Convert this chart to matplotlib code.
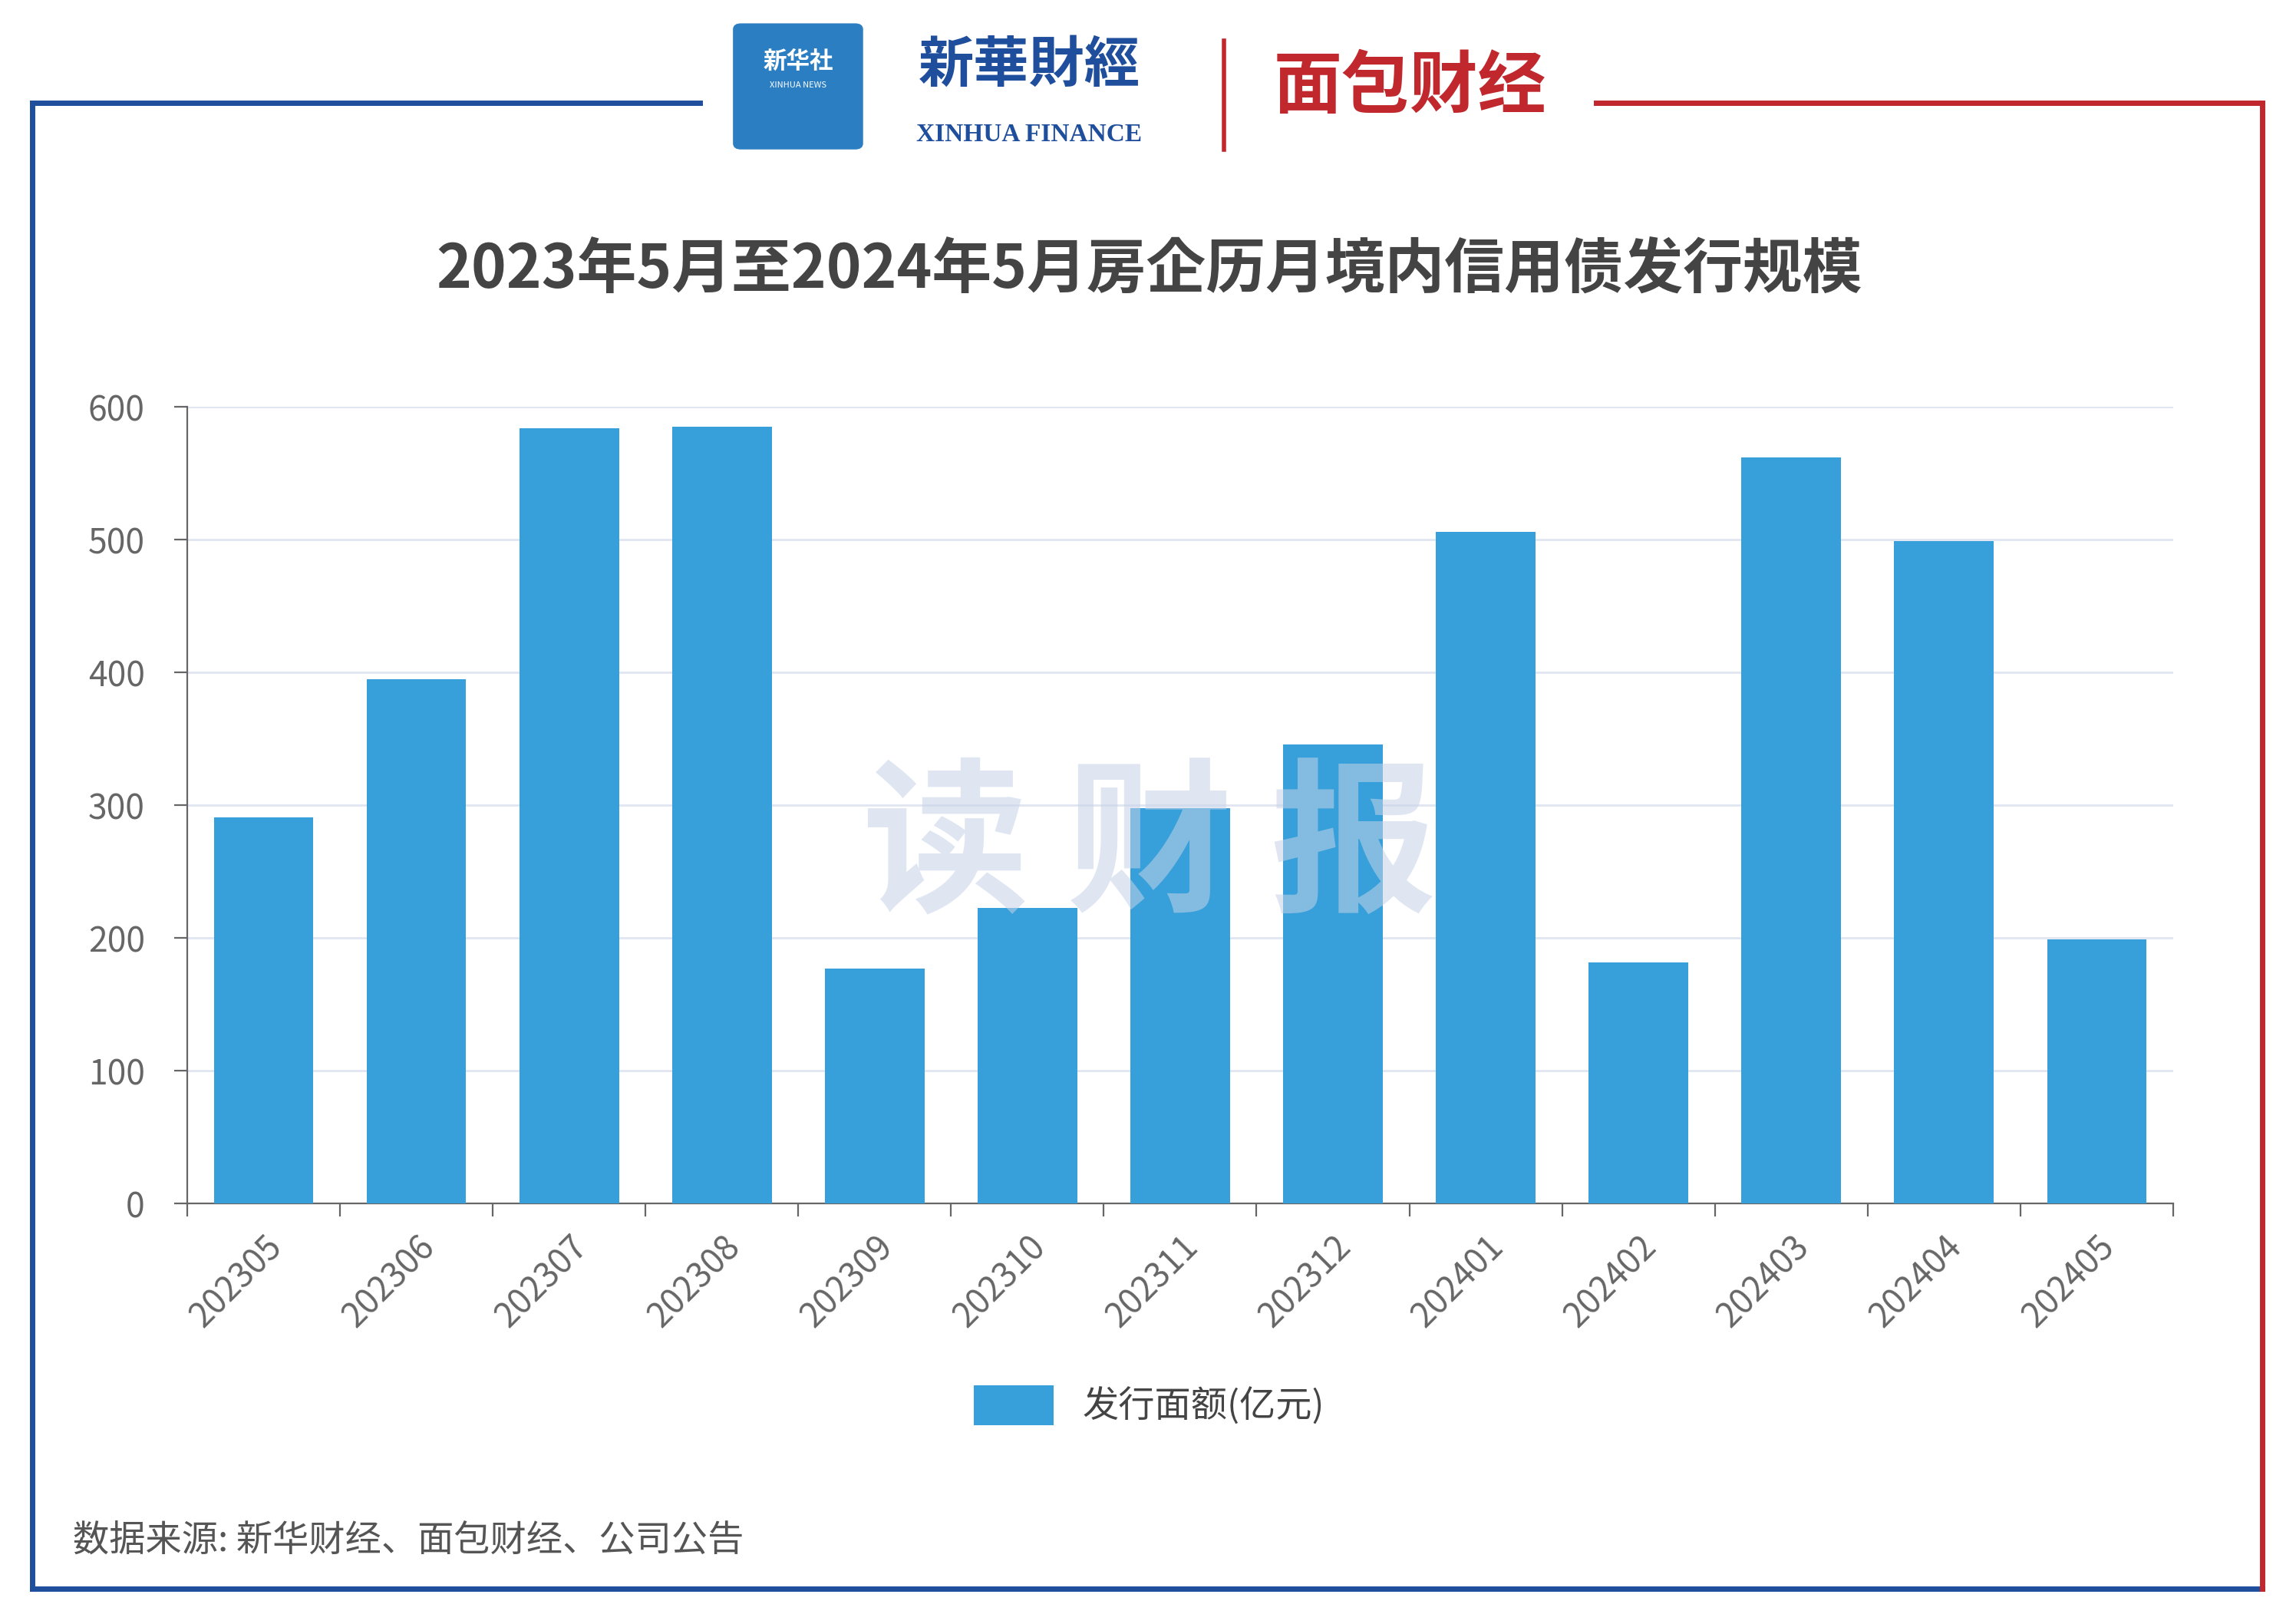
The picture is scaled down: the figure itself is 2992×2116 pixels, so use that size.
import matplotlib
matplotlib.use("Agg")
import matplotlib.pyplot as plt
from matplotlib.lines import Line2D
from matplotlib.patches import FancyBboxPatch
from matplotlib import font_manager

names = {f.name for f in font_manager.fontManager.ttflist}
cjk = [n for n in ["Noto Sans CJK SC", "Noto Sans CJK JP", "Noto Sans CJK TC", "Noto Sans CJK KR"] if n in names]
plt.rcParams['font.family'] = cjk + ['DejaVu Sans']

months = ["202305","202306","202307","202308","202309","202310","202311",
          "202312","202401","202402","202403","202404","202405"]
values = [291, 395, 584, 585, 177, 223, 298, 346, 506, 182, 562, 499, 199]
yticks = [0, 100, 200, 300, 400, 500, 600]

W, H = 1568, 1109
fig = plt.figure(figsize=(14.96, 10.58), dpi=200)

def fx(x): return x / W
def fy(y): return 1 - y / H

blue = "#1f4e9c"; red = "#c0282d"
fig.add_artist(Line2D([fx(22), fx(478)], [fy(70), fy(70)], color=blue, lw=2.5))
fig.add_artist(Line2D([fx(22), fx(22)], [fy(70), fy(1085)], color=blue, lw=2.5))
fig.add_artist(Line2D([fx(22), fx(1545)], [fy(1085), fy(1085)], color=blue, lw=2.5))
fig.add_artist(Line2D([fx(1090), fx(1545)], [fy(70), fy(70)], color=red, lw=2.5))
fig.add_artist(Line2D([fx(1545), fx(1545)], [fy(70), fy(1085)], color=red, lw=2.5))

fig.add_artist(FancyBboxPatch((fx(506), fy(98)), fx(78), fy(20) - fy(98),
                              boxstyle="round,pad=0.003", color="#2b7ec1"))
fig.text(fx(545), fy(42), "新华社", color="white", fontsize=11, ha="center", va="center", weight="bold")
fig.text(fx(545), fy(58), "XINHUA NEWS", color="white", fontsize=4, ha="center", va="center")
fig.text(fx(703), fy(45), "新華財經", color="#1f4e9c", fontsize=26, ha="center", va="center", weight="bold")
fig.text(fx(703), fy(92), "XINHUA FINANCE", color="#1f4e9c", fontsize=12, ha="center", va="center",
         family="Liberation Serif", weight="bold")
fig.add_artist(Line2D([fx(836), fx(836)], [fy(28), fy(102)], color=red, lw=2))
fig.text(fx(963), fy(60), "面包财经", color=red, fontsize=32, ha="center", va="center", weight="bold")

fig.text(fx(785), fy(185), "2023年5月至2024年5月房企历月境内信用债发行规模",
         fontsize=28, weight="bold", color="#444444", ha="center", va="center")

ax = fig.add_axes([fx(128), fy(822), fx(1484) - fx(128), fy(278) - fy(822)])
x = range(len(months))
ax.bar(x, values, width=0.65, color="#379fd9", label="发行面额(亿元)", zorder=3)
ax.set_xlim(-0.5, len(months) - 0.5)
ax.set_ylim(0, 600)
ax.set_yticks(yticks)
ax.set_yticklabels([str(v) for v in yticks], fontsize=16, color="#666666")
ax.set_xticks([i - 0.5 for i in range(len(months) + 1)])
ax.set_xticklabels([])
ax.set_xticks(list(x), minor=True)
ax.set_xticklabels(months, minor=True, rotation=45, ha="right", rotation_mode="anchor",
                   fontsize=16, color="#666666")
ax.tick_params(axis="x", which="minor", length=0, pad=12)
ax.tick_params(axis="x", which="major", length=6, color="#666666")
ax.tick_params(axis="y", length=6, color="#666666", pad=14)
ax.grid(axis="y", color="#e0e6f1", lw=1, zorder=0)
for s in ["top", "right"]:
    ax.spines[s].set_visible(False)
ax.spines["left"].set_color("#666666")
ax.spines["bottom"].set_color("#666666")

fig.text(fx(785), fy(580), "读 财 报", fontsize=78, color="#c5d3e8", alpha=0.55,
         ha="center", va="center", weight="bold", zorder=10)

fig.legend(loc="center", bbox_to_anchor=(fx(785), fy(960)), frameon=False,
           fontsize=17, handlelength=2.2, handleheight=1.3, labelcolor="#444444")

fig.text(fx(50), fy(1052), "数据来源: 新华财经、面包财经、公司公告", fontsize=17,
         color="#555555", ha="left", va="center")

fig.savefig("out.png", dpi=200)
